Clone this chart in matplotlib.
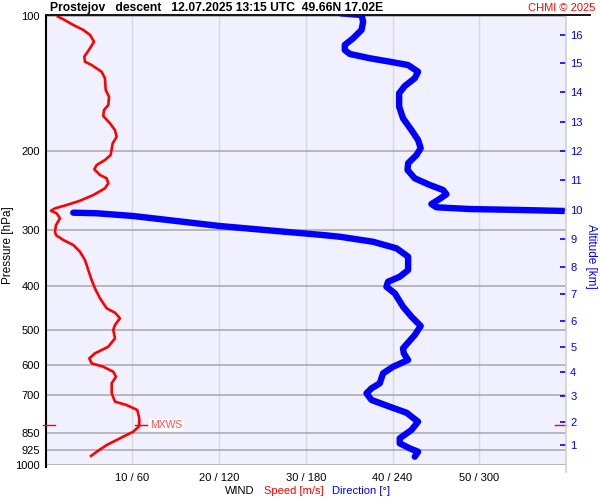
import matplotlib
matplotlib.use("Agg")
import matplotlib.pyplot as plt
from matplotlib.lines import Line2D
import matplotlib.transforms as mtransforms
import matplotlib.ticker as mticker

plt.rcParams['font.family'] = ['Liberation Sans', 'DejaVu Sans']

# ---------------- data ----------------
speed_p = [100, 101.7, 104.7, 107.4, 110.2, 114.1, 118.0, 123.2, 126.4, 128.6, 133.1, 137.6,
           146.2, 151.2, 157.8, 162.0, 167.0, 173.4, 179.5, 185.8, 192.2, 204.0, 209.3, 214.7,
           219.5, 226.0, 229.9, 235.9, 242.0, 250.5, 257.9, 263.6, 268.2, 271.5, 275.2, 282.3,
           292.2, 302.4, 307.6, 315.4, 323.6, 334.9, 349.5, 368.0, 387.3, 404.2, 425.4, 447.7,
           457.9, 471.3, 487.7, 500.4, 522.2, 545.2, 564.0, 578.7, 593.7, 604.1, 619.8, 635.9,
           657.7, 692.3, 722.8, 735.2, 754.2, 787.0, 818.7, 843.0, 872.1, 902.8, 934.2, 958.4]
speed_ms = [1.29, 2.05, 3.20, 4.35, 5.13, 5.59, 5.13, 4.47, 4.55, 5.32, 6.47, 6.85,
            6.94, 7.32, 7.24, 6.74, 6.66, 7.43, 8.01, 8.20, 7.74, 7.51, 6.85, 5.90,
            5.62, 6.28, 7.05, 7.24, 6.85, 5.51, 3.97, 2.44, 1.09, 0.63, 1.29, 1.67,
            1.21, 1.09, 1.21, 2.05, 3.20, 3.97, 4.55, 4.93, 5.32, 5.70, 6.28, 7.05,
            8.01, 8.58, 8.01, 7.81, 8.01, 7.24, 5.70, 5.05, 5.32, 6.66, 7.81, 8.12,
            7.63, 7.63, 8.01, 9.35, 10.58, 10.81, 10.81, 10.12, 8.58, 7.05, 5.90, 5.13]

# direction, upper part (above the wrap through 360 deg)
dir_p_upper = [98.6, 99.5, 103.0, 107.4, 112.1, 116.0, 119.1, 121.5, 124.2, 126.4, 128.6,
               133.1, 137.6, 143.2, 148.6, 159.2, 169.0, 179.5, 188.9, 197.0, 204.0, 212.8,
               220.3, 229.9, 237.9, 244.1, 249.5, 256.9, 262.3, 266.7, 269.1, 270.4, 271.8]
dir_deg_upper = [203.6, 218.6, 219.7, 218.6, 212.8, 207.0, 207.0, 210.5, 224.3, 238.1, 250.8,
                 257.7, 255.4, 248.5, 244.6, 244.6, 247.3, 253.1, 257.7, 259.5, 256.6, 250.8,
                 250.4, 255.4, 265.8, 275.0, 277.3, 271.5, 266.9, 270.4, 293.4, 328.0, 359.1]
# direction, lower part
dir_p_lower = [274.2, 275.0, 278.9, 285.6, 293.6, 300.8, 307.5, 310.2, 318.3, 329.2, 343.6,
               368.0, 380.8, 390.7, 400.9, 414.7, 444.0, 467.4, 490.2, 513.5, 549.7, 564.0,
               583.6, 604.1, 624.9, 657.7, 674.9, 692.3, 716.6, 741.6, 764.9, 800.8, 835.6,
               872.1, 894.8, 918.2, 934.2, 958.4]
dir_deg_lower = [19.2, 35.4, 60.7, 88.3, 120.6, 157.5, 192.0, 203.6, 226.6, 242.8, 250.8,
                 250.8, 245.0, 236.9, 235.8, 241.6, 247.3, 253.1, 259.5, 255.4, 247.3, 247.8,
                 250.8, 240.4, 233.5, 231.2, 225.5, 222.0, 225.5, 238.1, 249.7, 257.7, 253.1,
                 245.0, 245.0, 251.9, 257.7, 255.4]

p_levels = [100, 200, 300, 400, 500, 600, 700, 850, 925, 1000]
wind_ticks = [10, 20, 30, 40, 50]
wind_labels = ['10 / 60', '20 / 120', '30 / 180', '40 / 240', '50 / 300']
alt_km = [1, 2, 3, 4, 5, 6, 7, 8, 9, 10, 11, 12, 13, 14, 15, 16]
alt_p = [902.8, 800.9, 702.1, 620.8, 546.0, 477.1, 415.5, 362.2, 313.8, 270.4,
         231.9, 199.8, 172.0, 147.9, 127.3, 110.0]
mxws_p = 814.5
mxws_speed = 10.9

title = "Prostejov   descent   12.07.2025 13:15 UTC  49.66N 17.02E"

# ---------------- figure ----------------
W, H = 600, 500
fig = plt.figure(figsize=(6, 5), dpi=100, facecolor='white')
L, R, T, B = 45.5, 566, 16, 465
ax = fig.add_axes([L / W, 1 - B / H, (R - L) / W, (B - T) / H])
ax.set_facecolor('#f0f0ff')
ax.set_yscale('log')
ax.set_ylim(1000, 100)
ax.set_xlim(0, 60)

# twin axes first (they share axes with ax)
axd = ax.twiny()
axa = ax.twinx()

# grid
for p in p_levels:
    ax.axhline(p, color='#a8a8a8', lw=1.1, zorder=1)
for w in wind_ticks:
    ax.axvline(w, color='#d8d8d8', lw=1.0, zorder=0.5)

ax.yaxis.set_major_locator(mticker.FixedLocator(p_levels))
ax.yaxis.set_major_formatter(mticker.FixedFormatter([str(p) for p in p_levels]))
ax.yaxis.set_minor_locator(mticker.NullLocator())
ax.tick_params(axis='y', which='both', length=0, pad=4, labelsize=8)
ax.set_xticks(wind_ticks)
ax.set_xticklabels(wind_labels)
ax.tick_params(axis='x', length=0, pad=6, labelsize=8)

for s in ['top', 'bottom', 'right']:
    ax.spines[s].set_visible(False)
ax.spines['left'].set_color('black')
ax.spines['left'].set_linewidth(1.5)
ax.spines['left'].set_bounds(1010, 100)

# speed
ax.plot(speed_ms, speed_p, color='red', lw=1.9, zorder=3, solid_capstyle='butt')

# direction on twin axis
axd.set_xlim(0, 360)
axd.patch.set_visible(False)
axd.set_xticks([])
for s in axd.spines.values():
    s.set_visible(False)
axd.plot(dir_deg_upper, dir_p_upper, color='blue', lw=4.6, zorder=4, solid_capstyle='butt')
axd.plot(dir_deg_lower, dir_p_lower, color='blue', lw=4.6, zorder=4, solid_capstyle='round')

# altitude axis
axa.set_yscale('log')
axa.set_ylim(1000, 100)
axa.patch.set_visible(False)
axa.yaxis.set_major_locator(mticker.FixedLocator(alt_p))
axa.yaxis.set_major_formatter(mticker.FixedFormatter([str(a) for a in alt_km]))
axa.yaxis.set_minor_locator(mticker.NullLocator())
axa.tick_params(axis='y', direction='in', length=4.5, width=1.2, color='blue',
                labelcolor='blue', labelsize=8, pad=3)
for s in ['top', 'bottom', 'left']:
    axa.spines[s].set_visible(False)
axa.spines['right'].set_color('#d0d0d0')
axa.spines['right'].set_linewidth(1.2)
axa.spines['right'].set_bounds(1035, 100)

# MXWS markers
tb = mtransforms.blended_transform_factory(ax.transAxes, ax.transData)
ax.plot([-0.005, 0.018], [mxws_p, mxws_p], color='red', lw=1.0, transform=tb, clip_on=False, zorder=5)
ax.plot([0.979, 1.0], [mxws_p, mxws_p], color='red', lw=1.0, transform=tb, clip_on=False, zorder=5)
ax.plot([mxws_speed - 0.6, mxws_speed + 0.8], [mxws_p, mxws_p], color='red', lw=1.0, zorder=5)
ax.text(mxws_speed + 1.2, mxws_p, 'MXWS', color='#ff5050', fontsize=7.5, va='center', ha='left',
        zorder=6, bbox=dict(facecolor='white', edgecolor='none', pad=1.0))

# top line
fig.add_artist(Line2D([L / W, 590 / W], [1 - 15 / H, 1 - 15 / H], color='black', lw=1.3))

# texts
fig.text(50 / W, 1 - 8 / H, title, fontsize=8.7, fontweight='bold', ha='left', va='center')
fig.text(595 / W, 1 - 8 / H, 'CHMI © 2025', fontsize=8, color='red', ha='right', va='center')
fig.text(8 / W, 1 - 245 / H, 'Pressure [hPa]', fontsize=8.5, rotation=90, ha='center', va='center')
fig.text(591 / W, 1 - 256 / H, 'Altitude [km]', fontsize=8.5, rotation=-90, color='blue',
         ha='center', va='center')
fig.text(225 / W, 1 - 491 / H, 'WIND', fontsize=8, ha='left', va='center')
fig.text(264 / W, 1 - 491 / H, 'Speed [m/s]', fontsize=8, color='red', ha='left', va='center')
fig.text(332 / W, 1 - 491 / H, 'Direction [°]', fontsize=8, color='blue', ha='left', va='center')

fig.savefig('out.png', dpi=100, facecolor='white')
